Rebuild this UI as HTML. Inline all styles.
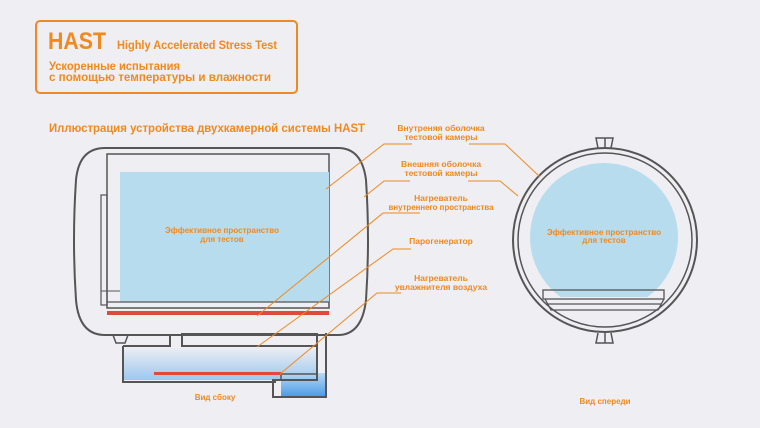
<!DOCTYPE html>
<html><head><meta charset="utf-8"><style>
html,body{margin:0;padding:0;background:#eeeef3;}
svg{display:block;font-family:"Liberation Sans","DejaVu Sans",sans-serif;}
</style></head><body>
<svg width="760" height="428" viewBox="0 0 760 428" xmlns="http://www.w3.org/2000/svg">
<defs>
<linearGradient id="tank" x1="0" y1="0" x2="0" y2="1">
<stop offset="0" stop-color="#eeeef3"/><stop offset="1" stop-color="#9cc8ee"/></linearGradient>
<linearGradient id="tank2" x1="0" y1="0" x2="0" y2="1">
<stop offset="0" stop-color="#b8d8f4"/><stop offset="1" stop-color="#4a9ae6"/></linearGradient>
<clipPath id="cc"><rect x="500" y="100" width="220" height="197"/></clipPath>
</defs>
<rect width="760" height="428" fill="#eeeef3"/>
<!-- header -->
<rect x="36" y="21" width="261" height="72" rx="4" fill="none" stroke="#f08a1e" stroke-width="2"/>
<text x="48" y="49" font-size="24" font-weight="bold" fill="#f08a1e" textLength="58" lengthAdjust="spacingAndGlyphs">HAST</text>
<text x="117" y="49" font-size="12" font-weight="bold" fill="#f08a1e" textLength="160" lengthAdjust="spacingAndGlyphs">Highly Accelerated Stress Test</text>
<text x="49" y="70" font-size="11.5" font-weight="bold" fill="#f08a1e" textLength="131" lengthAdjust="spacingAndGlyphs">Ускоренные испытания</text>
<text x="49" y="81" font-size="11.5" font-weight="bold" fill="#f08a1e" textLength="222" lengthAdjust="spacingAndGlyphs">с помощью температуры и влажности</text>
<text x="49" y="132" font-size="12" font-weight="bold" fill="#f08a1e" textLength="316" lengthAdjust="spacingAndGlyphs">Иллюстрация устройства двухкамерной системы HAST</text>
<!-- side view -->
<path d="M105,148 H338 Q362,148 366,180 Q370,240 366,300 Q362,335 338,335 H105 Q79,335 76,300 Q72,240 76,180 Q79,148 105,148 Z" fill="none" stroke="#555" stroke-width="2"/>
<rect x="107" y="154" width="222" height="154" fill="none" stroke="#555" stroke-width="1.5"/>
<rect x="120" y="172" width="209" height="130" fill="#b7dcee"/>
<line x1="107" y1="302" x2="329" y2="302" stroke="#555" stroke-width="1.2"/>
<rect x="101" y="195" width="6" height="110" fill="none" stroke="#555" stroke-width="1.2"/>
<line x1="101" y1="291" x2="120" y2="291" stroke="#555" stroke-width="1"/>
<rect x="107" y="311" width="222" height="4" fill="#e04a3a"/>
<path d="M113,335 l3,8 h9 l3,-8" fill="none" stroke="#555" stroke-width="1.5"/>
<rect x="124" y="347" width="192" height="33" fill="url(#tank)"/>
<rect x="281" y="373" width="44" height="24" fill="url(#tank2)"/>
<path d="M123,346 H170 V334 M182,334 V346 H317 V380 H273 V397 H326 V333 M123,346 V382 H276" fill="none" stroke="#555" stroke-width="2"/>
<rect x="182" y="334" width="135" height="12" fill="none" stroke="#555" stroke-width="2"/>
<rect x="281" y="374" width="36" height="6" fill="none" stroke="#555" stroke-width="1.5"/>
<rect x="154" y="372" width="128" height="3" fill="#e04a3a"/>
<text x="222" y="233" font-size="8" font-weight="bold" fill="#f08a1e" text-anchor="middle" textLength="114" lengthAdjust="spacingAndGlyphs">Эффективное пространство</text>
<text x="222" y="242" font-size="8" font-weight="bold" fill="#f08a1e" text-anchor="middle">для тестов</text>
<text x="215" y="400" font-size="8" font-weight="bold" fill="#f08a1e" text-anchor="middle">Вид сбоку</text>
<!-- front view -->
<path d="M598,148 l-2,-10 h17 l-2,10 M605,138 v10 M598,333 l-2,10 h17 l-2,-10 M605,333 v10" fill="none" stroke="#555" stroke-width="1.5"/>
<circle cx="605" cy="240" r="92" fill="none" stroke="#555" stroke-width="2"/>
<circle cx="605" cy="240" r="87" fill="none" stroke="#555" stroke-width="1.5"/>
<circle cx="604" cy="237" r="74" fill="#b7dcee" clip-path="url(#cc)"/>
<rect x="543" y="290" width="121" height="9" fill="none" stroke="#555" stroke-width="1.3"/>
<path d="M545,299 L551,310 H658 L664,299 M548,304 H661" fill="none" stroke="#555" stroke-width="1.3"/>
<text x="604" y="235" font-size="8" font-weight="bold" fill="#f08a1e" text-anchor="middle" textLength="114" lengthAdjust="spacingAndGlyphs">Эффективное пространство</text>
<text x="604" y="243" font-size="8" font-weight="bold" fill="#f08a1e" text-anchor="middle">для тестов</text>
<text x="605" y="404" font-size="8" font-weight="bold" fill="#f08a1e" text-anchor="middle">Вид спереди</text>
<!-- labels -->
<g font-size="8.5" font-weight="bold" fill="#f08a1e" text-anchor="middle">
<text x="441" y="131">Внутреняя оболочка</text><text x="441" y="140">тестовой камеры</text>
<text x="441" y="167">Внешняя оболочка</text><text x="441" y="176">тестовой камеры</text>
<text x="441" y="201">Нагреватель</text><text x="441" y="210" textLength="105" lengthAdjust="spacingAndGlyphs">внутреннего пространства</text>
<text x="441" y="244">Парогенератор</text>
<text x="441" y="281">Нагреватель</text><text x="441" y="290">увлажнителя воздуха</text>
</g>
<g fill="none" stroke="#f08a1e" stroke-width="1">
<path d="M412,144 H384 L326,189"/>
<path d="M469,144 H505 L540,177"/>
<path d="M410,181 H384 L364,197"/>
<path d="M468,181 H500 L518,196"/>
<path d="M420,213 H383 L257,316"/>
<path d="M411,249 H393 L257,347"/>
<path d="M401,293 H377 L280,374"/>
</g>
</svg>
</body></html>
